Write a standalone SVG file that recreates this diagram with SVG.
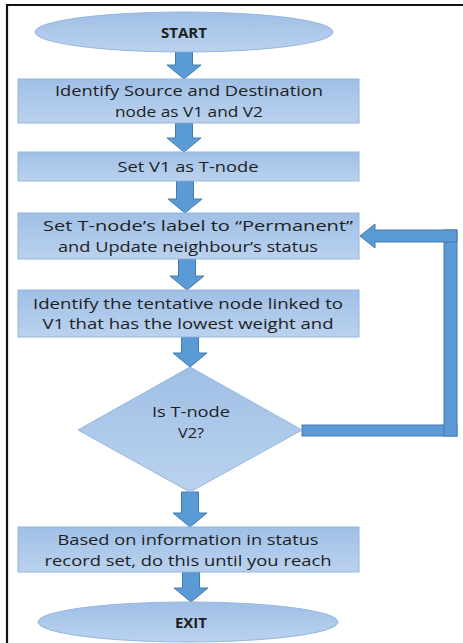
<svg xmlns="http://www.w3.org/2000/svg" width="463" height="643" viewBox="0 0 463 643">
<defs>
<linearGradient id="g" x1="0" y1="0" x2="0" y2="1">
<stop offset="0" stop-color="#A0BFE6"/>
<stop offset="1" stop-color="#BAD2EE"/>
</linearGradient>
<style>
.shape{fill:url(#g);stroke:#94B6E0;stroke-width:1}
.arr{fill:#5B9BD5;stroke:#4678AE;stroke-width:1}
.t{font-family:"Open Sans","Liberation Sans",sans-serif;font-size:15px;fill:#1E1E1E;text-anchor:middle}
.b{font-weight:bold}
</style>
</defs>
<rect width="463" height="643" fill="#FFFFFF"/>
<g id="frame" fill="none" stroke="#111" stroke-width="2.2">
<line x1="6" y1="5" x2="463" y2="5"/>
<line x1="7" y1="4" x2="7" y2="643"/>
</g>
<g id="connectors">
<path class="arr" d="M175.5,52 H192.5 V65 H201 L184,79 L167,65 H175.5 Z"/>
<path class="arr" d="M175.5,123 H192.5 V138 H201 L184,152 L167,138 H175.5 Z"/>
<path class="arr" d="M176.5,181 H193.5 V199 H202 L185,213 L168,199 H176.5 Z"/>
<path class="arr" d="M178.5,259 H195.5 V276 H204 L187,290 L170,276 H178.5 Z"/>
<path class="arr" d="M181.5,337 H198.5 V353 H207 L190,367 L173,353 H181.5 Z"/>
<path class="arr" d="M181.5,492 H198.5 V513 H207 L190,527 L173,513 H181.5 Z"/>
<path class="arr" d="M182.5,572 H199.5 V588 H208 L191,602 L174,588 H182.5 Z"/>
<rect class="arr" x="302" y="425" width="155" height="11"/>
<rect class="arr" x="444" y="230" width="13" height="206"/>
<path class="arr" d="M457,230 V242 H375 V248 L360,236 L375,224 V230 Z"/>
</g>
<g id="start">
<ellipse class="shape" cx="184" cy="32" rx="149" ry="20"/>
<text class="t b" x="184" y="37.5">START</text>
</g>
<g id="identify">
<rect class="shape" x="18" y="79" width="341" height="44"/>
<text class="t" x="189" y="96" textLength="268" lengthAdjust="spacingAndGlyphs">Identify Source and Destination</text>
<text class="t" x="189" y="116.5" textLength="148" lengthAdjust="spacingAndGlyphs">node as V1 and V2</text>
</g>
<g id="setv1">
<rect class="shape" x="18" y="152" width="341" height="29"/>
<text class="t" x="188" y="171.5" textLength="141" lengthAdjust="spacingAndGlyphs">Set V1 as T-node</text>
</g>
<g id="permanent">
<rect class="shape" x="18" y="213" width="341" height="46"/>
<text class="t" x="198" y="231" textLength="310" lengthAdjust="spacingAndGlyphs">Set T-node’s label to “Permanent”</text>
<text class="t" x="188" y="251.5" textLength="260" lengthAdjust="spacingAndGlyphs">and Update neighbour’s status</text>
</g>
<g id="tentative">
<rect class="shape" x="18" y="290" width="341" height="47"/>
<text class="t" x="188" y="308.5" textLength="310" lengthAdjust="spacingAndGlyphs">Identify the tentative node linked to</text>
<text class="t" x="188" y="329" textLength="291" lengthAdjust="spacingAndGlyphs">V1 that has the lowest weight and</text>
</g>
<g id="decision">
<polygon class="shape" points="190,367 302,430 190,492 78,430"/>
<text class="t" x="191" y="417" textLength="78" lengthAdjust="spacingAndGlyphs">Is T-node</text>
<text class="t" x="191" y="438" textLength="26" lengthAdjust="spacingAndGlyphs">V2?</text>
</g>
<g id="based">
<rect class="shape" x="18" y="527" width="341" height="45"/>
<text class="t" x="188" y="545" textLength="261" lengthAdjust="spacingAndGlyphs">Based on information in status</text>
<text class="t" x="188" y="565.5" textLength="287" lengthAdjust="spacingAndGlyphs">record set, do this until you reach</text>
</g>
<g id="exit">
<ellipse class="shape" cx="188" cy="622" rx="150" ry="20"/>
<text class="t b" x="191" y="627.5">EXIT</text>
</g>
</svg>
